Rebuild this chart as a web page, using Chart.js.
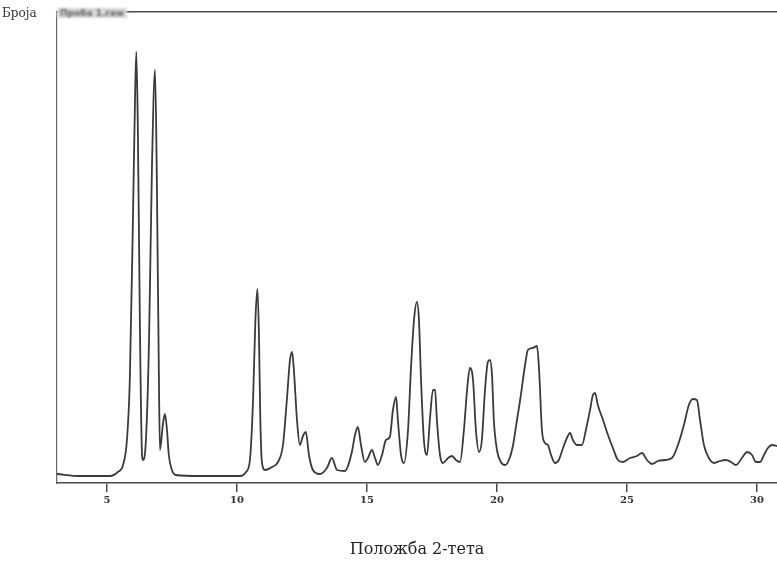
<!DOCTYPE html>
<html>
<head>
<meta charset="utf-8">
<script src="https://cdn.jsdelivr.net/npm/chart.js@4/dist/chart.umd.min.js"></script>
<style>
  body { margin: 0; background: #fff; }
  #wrap { position: relative; width: 777px; height: 564px; }
  #yLabel { position: absolute; left: 2px; top: 6px; font: 12px "DejaVu Serif", serif; color: #333; }
  #sample { position: absolute; left: 57px; top: 8px; font: bold 9px "DejaVu Sans", sans-serif; color: #666; filter: blur(0.8px); background: #d8d8d8; padding: 0 3px; }
</style>
</head>
<body>
<div id="wrap">
  <canvas id="xrdChart" width="777" height="564"></canvas>
  <span id="yLabel">Броја</span>
  <span id="sample">Проба 1.raw</span>
</div>
<script>
// Diffractogram: position 2θ (deg) and counts
const twoTheta = [
  3.08, 3.96, 5.12, 5.42, 5.62, 5.77, 5.88, 6.00, 6.08, 6.13, 6.19, 6.27, 6.35, 6.38, 6.50, 6.62,
  6.73, 6.85, 6.92, 7.00, 7.04, 7.15, 7.23, 7.31, 7.38, 7.50, 7.65, 8.58, 10.12, 10.35, 10.50, 10.62,
  10.71, 10.79, 10.85, 10.90, 10.96, 11.08, 11.35, 11.58, 11.77, 11.92, 12.04, 12.12, 12.19, 12.31,
  12.42, 12.54, 12.65, 12.77, 12.92, 13.19, 13.46, 13.65, 13.85, 14.15, 14.42, 14.54, 14.65, 14.77,
  14.92, 15.04, 15.19, 15.31, 15.42, 15.58, 15.73, 15.88, 16.00, 16.12, 16.19, 16.31, 16.42, 16.58,
  16.69, 16.81, 16.92, 17.00, 17.08, 17.19, 17.31, 17.42, 17.54, 17.62, 17.69, 17.81, 17.92, 18.12,
  18.27, 18.42, 18.58, 18.73, 18.85, 18.96, 19.08, 19.19, 19.31, 19.42, 19.54, 19.65, 19.73, 19.81,
  19.88, 20.00, 20.15, 20.31, 20.46, 20.62, 20.77, 20.92, 21.08, 21.19, 21.38, 21.54, 21.62, 21.73,
  21.85, 21.96, 22.08, 22.23, 22.38, 22.54, 22.69, 22.81, 22.92, 23.08, 23.27, 23.42, 23.58, 23.69,
  23.77, 23.88, 24.08, 24.27, 24.46, 24.65, 24.85, 25.12, 25.38, 25.58, 25.77, 25.96, 26.19, 26.46,
  26.73, 26.96, 27.19, 27.38, 27.54, 27.69, 27.81, 27.96, 28.15, 28.35, 28.58, 28.81, 29.00, 29.19,
  29.42, 29.62, 29.81, 29.96, 30.12, 30.27, 30.42, 30.58, 30.77
];
const counts = [
  90, 70, 70, 110, 180, 430, 1030, 2630, 3830, 4310, 3530, 1530, 280, 230, 430, 1430,
  3130, 4130, 3030, 1030, 330, 580, 690, 530, 280, 130, 80, 70, 70, 110, 230, 830,
  1630, 1940, 1430, 630, 210, 130, 160, 210, 380, 830, 1230, 1310, 1130, 630,
  380, 470, 510, 280, 130, 90, 150, 250, 130, 120, 310, 480, 560, 380,
  210, 250, 330, 250, 180, 280, 430, 460, 730, 860, 630, 280, 200, 530,
  1130, 1630, 1810, 1630, 1030, 430, 280, 630, 930, 930, 630, 280, 200, 250,
  270, 230, 210, 530, 930, 1150, 1030, 530, 310, 430, 930, 1210, 1230, 1080,
  630, 330, 210, 180, 230, 380, 630, 880, 1180, 1330, 1350, 1370, 1130, 530,
  400, 380, 280, 200, 230, 350, 450, 500, 430, 380, 380, 530, 730, 880,
  900, 780, 630, 480, 350, 230, 210, 250, 270, 300, 230, 190, 220, 230,
  250, 380, 580, 780, 840, 830, 630, 380, 250, 200, 220, 230, 210, 180,
  250, 310, 280, 210, 210, 280, 350, 380, 370
];
const tickValues = [5, 10, 15, 20, 25, 30];
const xTitle = 'Положба 2-тета';

const xMin = 3.08, xMax = 30.77;
const axisColor = '#4a4a4a';

new Chart(document.getElementById('xrdChart'), {
  type: 'line',
  data: {
    datasets: [{
      data: twoTheta.map((t, i) => ({ x: t, y: counts[i] })),
      borderColor: '#3a3a3a',
      borderWidth: 1.8,
      pointRadius: 0,
      cubicInterpolationMode: 'monotone',
      fill: false
    }]
  },
  options: {
    responsive: false,
    animation: false,
    layout: { padding: 0 },
    plugins: { legend: { display: false }, tooltip: { enabled: false } },
    scales: {
      x: {
        type: 'linear',
        min: xMin,
        max: xMax,
        afterBuildTicks: s => { s.ticks = tickValues.map(v => ({ value: v })); },
        afterFit: s => { s.height = 81; },
        grid: { drawOnChartArea: false, drawTicks: true, tickLength: 9, color: axisColor, lineWidth: 1.5 },
        border: { display: true, color: axisColor, width: 1.5 },
        ticks: { padding: 2, color: '#333', font: { family: 'DejaVu Serif', size: 10, weight: 'bold' } },
        title: {
          display: true,
          text: xTitle,
          color: '#222',
          font: { family: 'DejaVu Serif', size: 16 },
          padding: { top: 0, bottom: 5 }
        }
      },
      xTop: {
        type: 'linear',
        position: 'top',
        min: xMin,
        max: xMax,
        afterFit: s => { s.height = 12; },
        grid: { display: false },
        ticks: { display: false },
        border: { display: true, color: axisColor, width: 1.5 }
      },
      y: {
        min: 0,
        max: 4710,
        afterFit: s => { s.width = 57; },
        grid: { display: false },
        ticks: { display: false },
        border: { display: true, color: '#666', width: 1.2 }
      }
    }
  }
});
</script>
</body>
</html>
